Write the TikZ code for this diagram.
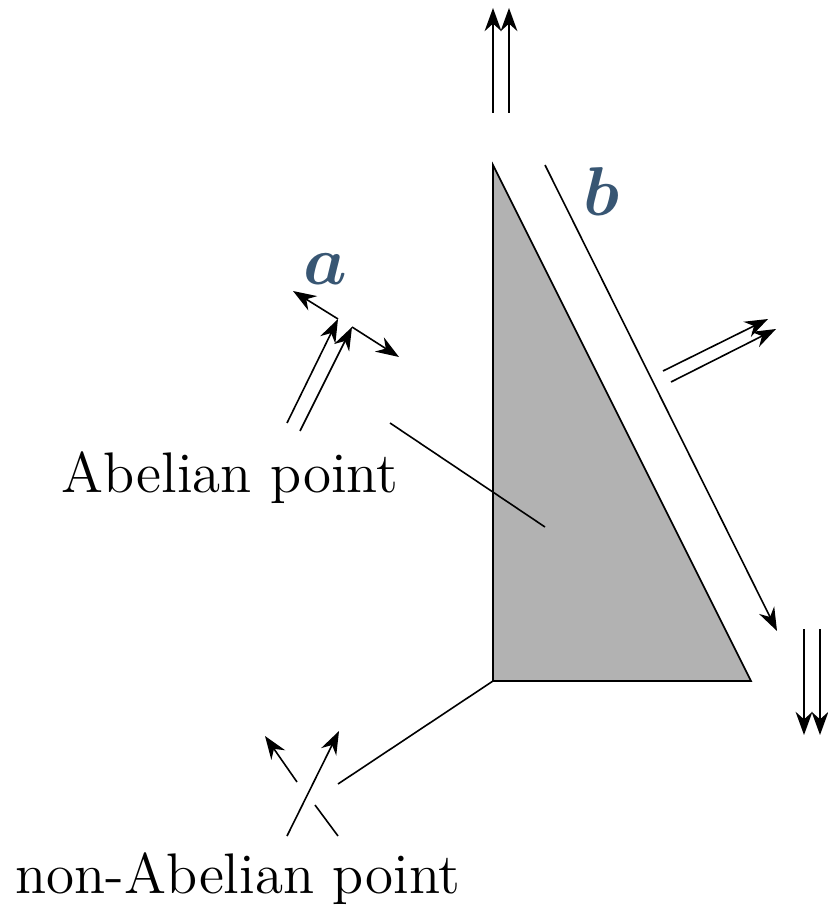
\documentclass[tikz,border=0pt]{standalone}
\usepackage{bm}
\usetikzlibrary{arrows.meta}
\definecolor{labblue}{RGB}{56,86,115}
\begin{document}
\begin{tikzpicture}[x=0.25pt,y=-0.25pt,
  arr/.style={-{Stealth[length=5.8pt,width=4.2pt]}},
  lab/.style={font=\fontsize{14.3}{17}\selectfont,anchor=base},
  sym/.style={font=\fontsize{18.5}{22}\selectfont,text=labblue}]
\useasboundingbox (0,0) rectangle (827,908);
% wedge
\coordinate (top) at (493,165);
\coordinate (corner) at (493,681);
\coordinate (edge) at (751,681);
\draw[fill=black!30] (top) -- (corner) -- (edge) -- cycle;
% b line along the hypotenuse
\coordinate (b0) at (545,165);
\coordinate (b1) at (777,631);
\draw[arr] (b0) -- (b1);
\node[sym] (b) at (601,192) {$\bm{b}$};
% double arrows
\coordinate (u0) at (493,113); \coordinate (u1) at (493,8);
\coordinate (v0) at (509,113); \coordinate (v1) at (509,8);
\draw[arr] (u0) -- (u1); \draw[arr] (v0) -- (v1);
\coordinate (r0) at (663,371); \coordinate (r1) at (768,319);
\coordinate (s0) at (671,382); \coordinate (s1) at (776,329);
\draw[arr] (r0) -- (r1); \draw[arr] (s0) -- (s1);
\coordinate (d0) at (804,629); \coordinate (d1) at (804,735);
\coordinate (e0) at (820,629); \coordinate (e1) at (820,735);
\draw[arr] (d0) -- (d1); \draw[arr] (e0) -- (e1);
% Abelian point
\coordinate (p0) at (287,423); \coordinate (p1) at (338,319);
\coordinate (q0) at (300,431); \coordinate (q1) at (352,327);
\draw[arr] (p0) -- (p1); \draw[arr] (q0) -- (q1);
\coordinate (al) at (293,291); \coordinate (ar) at (399,357);
\draw[arr] (p1) -- (al); \draw[arr] (q1) -- (ar);
\node[sym] (a) at (325,269) {$\bm{a}$};
\node[lab] (abel) at (230,492) {Abelian point};
\coordinate (ab0) at (390,423); \coordinate (ab1) at (545,527);
\draw (ab0) -- (ab1);
% non-Abelian point
\coordinate (n0) at (287,836); \coordinate (n1) at (339,731);
\draw[arr] (n0) -- (n1);
\coordinate (m0) at (338,836); \coordinate (m1) at (315,805);
\coordinate (m2) at (297,782); \coordinate (m3) at (265,736);
\draw (m0) -- (m1); \draw[arr] (m2) -- (m3);
\coordinate (nc) at (338,784);
\draw (nc) -- (corner);
\node[lab] (nonabel) at (238,893) {non-Abelian point};
\end{tikzpicture}
\end{document}
